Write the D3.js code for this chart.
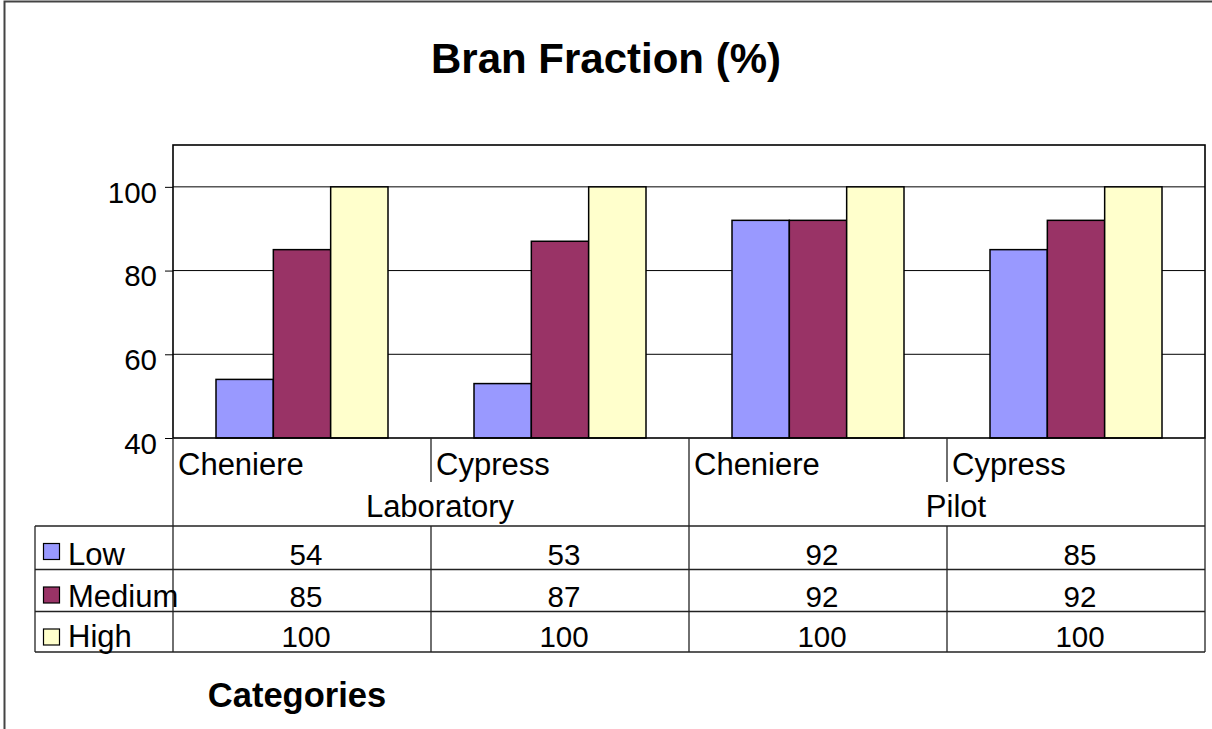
<!DOCTYPE html>
<html>
<head>
<meta charset="utf-8">
<script src="https://cdn.jsdelivr.net/npm/d3@7"></script>
<style>
  html, body { margin: 0; padding: 0; background: #fff; }
  svg { display: block; font-family: "Liberation Sans", Arial, sans-serif; }
</style>
</head>
<body>
<svg id="chart" width="1212" height="729"></svg>
<script>
// ---- data ----
const groups = ["Laboratory", "Pilot"];
const subcategories = ["Cheniere", "Cypress", "Cheniere", "Cypress"];
const categoryGroup = ["Laboratory", "Laboratory", "Pilot", "Pilot"];
const seriesNames = ["Low", "Medium", "High"];
const lowValues = [54, 53, 92, 85];
const mediumValues = [85, 87, 92, 92];
const highValues = [100, 100, 100, 100];
const yTicks = [40, 60, 80, 100];
const titleText = "Bran Fraction (%)";
const axisTitle = "Categories";

const seriesValues = [lowValues, mediumValues, highValues];
const colors = ["#9999FF", "#993366", "#FFFFCC"];

// ---- layout ----
const svg = d3.select("#chart");
const plot = { left: 173, right: 1205, top: 145, bottom: 438 };
const rows = [526, 569.5, 611.5, 652];
const tableLeft = 35;
const numSize = 29.5;
const wordSize = 31;

// outer frame
svg.append("path")
  .attr("d", "M4.5,729 L4.5,1.5 L1212,1.5")
  .attr("fill", "none").attr("stroke", "#444").attr("stroke-width", 2);

// title
svg.append("text")
  .attr("x", 606).attr("y", 73)
  .attr("text-anchor", "middle")
  .attr("font-weight", "bold").attr("font-size", 42)
  .text(titleText);

// scales
const idx = d3.range(subcategories.length);
const x = d3.scaleBand().domain(idx).range([plot.left, plot.right]).paddingInner(0).paddingOuter(0);
const xs = d3.scaleBand().domain(seriesNames).range([0, x.bandwidth()]).paddingInner(0).paddingOuter(0.75);
const y = d3.scaleLinear().domain([40, 110]).range([plot.bottom, plot.top]);

// gridlines
svg.append("g").selectAll("line")
  .data(yTicks.filter(d => d > 40))
  .join("line")
  .attr("x1", plot.left).attr("x2", plot.right)
  .attr("y1", d => y(d)).attr("y2", d => y(d))
  .attr("stroke", "#000").attr("stroke-width", 1);

// bars
seriesNames.forEach((s, si) => {
  svg.append("g").selectAll("rect")
    .data(idx)
    .join("rect")
    .attr("x", i => x(i) + xs(s))
    .attr("y", i => y(seriesValues[si][i]))
    .attr("width", xs.bandwidth())
    .attr("height", i => y(40) - y(seriesValues[si][i]))
    .attr("fill", colors[si])
    .attr("stroke", "#000").attr("stroke-width", 1.5);
});

// plot border
svg.append("rect")
  .attr("x", plot.left).attr("y", plot.top)
  .attr("width", plot.right - plot.left).attr("height", plot.bottom - plot.top)
  .attr("fill", "none").attr("stroke", "#000").attr("stroke-width", 1.6);

// y axis
const yAxis = d3.axisLeft(y).tickValues(yTicks).tickSize(8).tickPadding(8).tickFormat(d3.format("d"));
const gy = svg.append("g").attr("transform", `translate(${plot.left},0)`).call(yAxis);
gy.select(".domain").remove();
gy.selectAll(".tick line").attr("stroke", "#000").attr("stroke-width", 1);
gy.selectAll(".tick text")
  .attr("font-size", numSize).attr("font-family", "Liberation Sans, Arial, sans-serif")
  .attr("fill", "#000").attr("dy", "0.52em");

// category axis lines
const lineColor = "#222";
idx.concat([idx.length]).forEach(i => {
  const xx = i < idx.length ? x(i) : plot.right;
  const isGroupEdge = i === 0 || i === idx.length || categoryGroup[i] !== categoryGroup[i - 1];
  if (isGroupEdge) {
    svg.append("line").attr("x1", xx).attr("x2", xx).attr("y1", plot.bottom).attr("y2", rows[3])
      .attr("stroke", lineColor).attr("stroke-width", 1.3);
  } else {
    svg.append("line").attr("x1", xx).attr("x2", xx).attr("y1", plot.bottom).attr("y2", 482)
      .attr("stroke", lineColor).attr("stroke-width", 1.3);
    svg.append("line").attr("x1", xx).attr("x2", xx).attr("y1", rows[0]).attr("y2", rows[3])
      .attr("stroke", lineColor).attr("stroke-width", 1.3);
  }
});

// subcategory labels
svg.append("g").selectAll("text")
  .data(idx)
  .join("text")
  .attr("x", i => x(i) + 5).attr("y", 475)
  .attr("font-size", wordSize)
  .text(i => subcategories[i]);

// group labels
groups.forEach(g => {
  const members = idx.filter(i => categoryGroup[i] === g);
  const x0 = x(members[0]);
  const x1 = x(members[members.length - 1]) + x.bandwidth();
  svg.append("text")
    .attr("x", (x0 + x1) / 2 + 9).attr("y", 517)
    .attr("text-anchor", "middle").attr("font-size", wordSize)
    .text(g);
});

// data table
rows.forEach(ry => {
  svg.append("line")
    .attr("x1", tableLeft).attr("x2", plot.right)
    .attr("y1", ry).attr("y2", ry)
    .attr("stroke", lineColor).attr("stroke-width", 1.3);
});
svg.append("line").attr("x1", tableLeft).attr("x2", tableLeft).attr("y1", rows[0]).attr("y2", rows[3])
  .attr("stroke", lineColor).attr("stroke-width", 1.3);

seriesNames.forEach((s, si) => {
  const rowBottom = rows[si + 1];
  const rowTop = rows[si];
  // legend key
  svg.append("rect")
    .attr("x", 43.5).attr("y", rowTop + 17.5)
    .attr("width", 16).attr("height", 16)
    .attr("fill", colors[si]).attr("stroke", "#000").attr("stroke-width", 1.2);
  svg.append("text")
    .attr("x", 68).attr("y", rowBottom - 5)
    .attr("font-size", wordSize).text(s);
  svg.append("g").selectAll("text")
    .data(idx)
    .join("text")
    .attr("x", i => x(i) + x.bandwidth() / 2 + 4)
    .attr("y", rowBottom - 5)
    .attr("text-anchor", "middle").attr("font-size", numSize)
    .text(i => seriesValues[si][i]);
});

// axis title
svg.append("text")
  .attr("x", 297).attr("y", 707)
  .attr("text-anchor", "middle")
  .attr("font-weight", "bold").attr("font-size", 34.5)
  .text(axisTitle);
</script>
</body>
</html>
